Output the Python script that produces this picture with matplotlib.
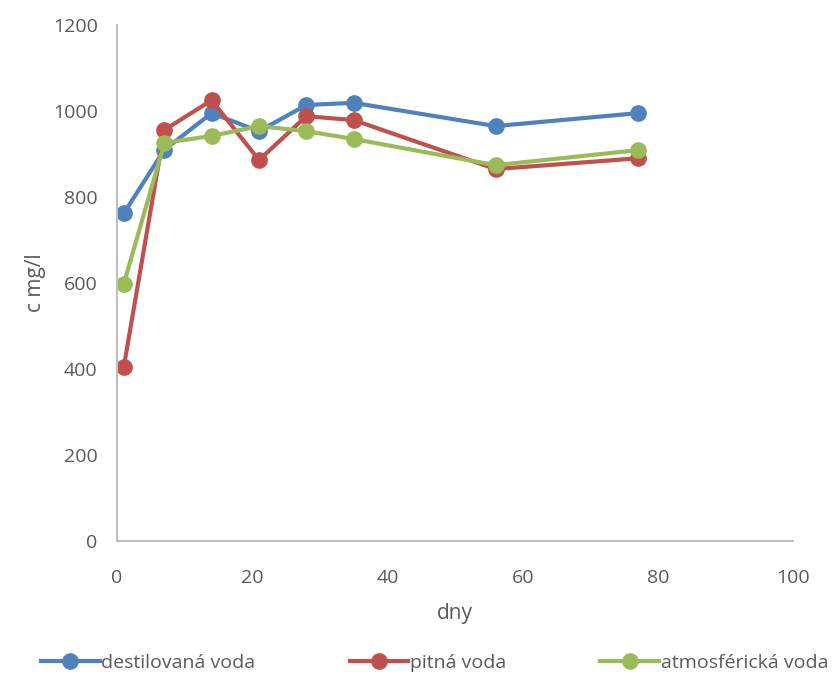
import matplotlib.pyplot as plt

plt.rcParams['font.family'] = ['Open Sans', 'DejaVu Sans']

days = [1, 7, 14, 21, 28, 35, 56, 77]
destilovana = [762, 910, 995, 953, 1014, 1019, 965, 995]
pitna = [405, 956, 1025, 886, 988, 979, 865, 890]
atmosfericka = [598, 926, 942, 965, 953, 935, 874, 909]

series = [
    ('destilovaná voda', destilovana, '#4F81BD'),
    ('pitná voda', pitna, '#C0504D'),
    ('atmosférická voda', atmosfericka, '#9BBB59'),
]

fig = plt.figure(figsize=(8.36, 6.8), dpi=100)
ax = fig.add_axes([0.14, 0.2044, 0.8086, 0.7588])

for label, vals, color in series:
    ax.plot(days, vals, color=color, lw=3, marker='o', ms=11, label=label)

ax.set_xlim(0, 100)
ax.set_ylim(0, 1200)
ax.set_xticks(range(0, 101, 20))
ax.set_yticks(range(0, 1201, 200))

txt = '#595959'
for s in ['top', 'right']:
    ax.spines[s].set_visible(False)
for s in ['left', 'bottom']:
    ax.spines[s].set_color('#BFBFBF')
    ax.spines[s].set_linewidth(1.5)
ax.tick_params(length=0, labelsize=14, colors=txt)
ax.tick_params(axis='x', pad=20)
ax.tick_params(axis='y', pad=14)
ax.set_xlabel('dny', fontsize=15, color=txt, labelpad=12)
ax.set_ylabel('c mg/l', fontsize=15, color=txt, labelpad=5)

fig.legend(loc='lower left', bbox_to_anchor=(0.04, 0.0, 0.96, 0.045), mode='expand',
           ncol=3, frameon=False, fontsize=14, labelcolor=txt, handlelength=3,
           handletextpad=0.1, borderaxespad=0)

fig.savefig('out.png', dpi=100)
